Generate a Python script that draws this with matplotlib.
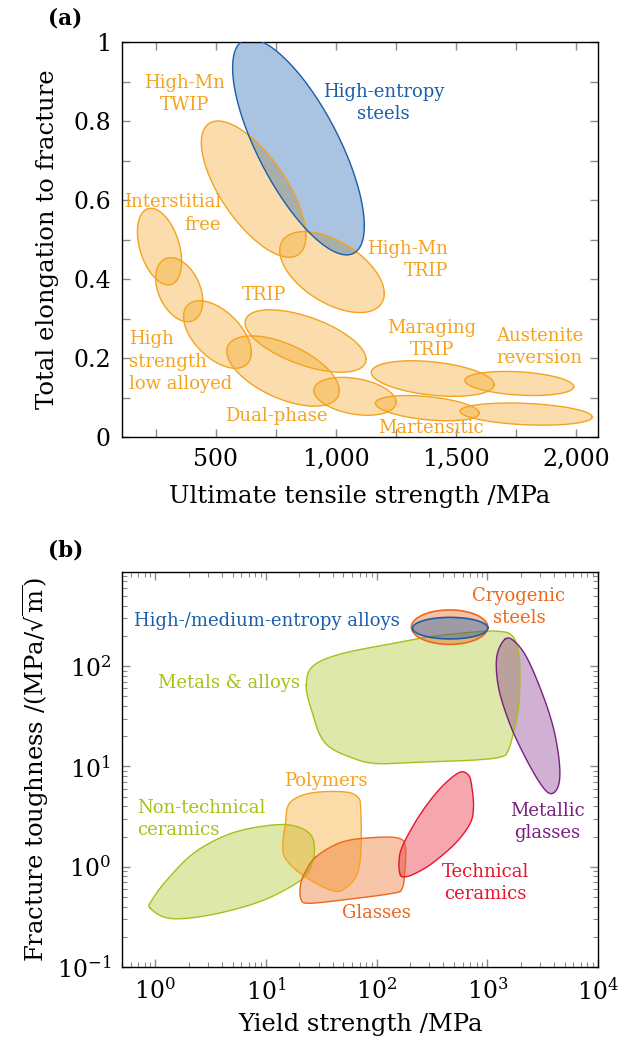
import numpy as np
import matplotlib
matplotlib.use("Agg")
import matplotlib.pyplot as plt
from matplotlib.ticker import FixedLocator, FuncFormatter, LogLocator, NullFormatter

plt.rcParams['font.family'] = ['DejaVu Serif']
plt.rcParams['mathtext.fontset'] = 'dejavuserif'

# ---------------- Panel (a) data: steel families (UTS / MPa, elongation) ----------------
steel_names = ["HEA", "TWIP", "HMnTRIP", "IF", "IF-HSLA", "HSLA", "TRIP", "DP",
               "DP-M", "MarTRIP", "AusRev", "Mart1", "Mart2"]
uts_lo = [570, 440, 766, 174, 250, 366, 622, 546, 908, 1147, 1536, 1164, 1516]
uts_hi = [1118, 875, 1201, 358, 446, 648, 1125, 1014, 1250, 1658, 1989, 1596, 2066]
elong_lo = [0.461, 0.455, 0.315, 0.385, 0.292, 0.174, 0.164, 0.078, 0.055, 0.103, 0.105, 0.041, 0.030]
elong_hi = [1.008, 0.800, 0.520, 0.579, 0.454, 0.345, 0.322, 0.256, 0.151, 0.193, 0.166, 0.105, 0.086]
coupling_deg = [137, 133, 122, 113, 111, 122, 126, 124, 108, 110, 105, 113, 105]

labels_a = ["High-Mn\nTWIP", "High-entropy\nsteels", "Interstitial\nfree", "High-Mn\nTRIP",
            "TRIP", "High\nstrength\nlow alloyed", "Maraging\nTRIP", "Austenite\nreversion",
            "Dual-phase", "Martensitic"]
labels_a_x = [370, 1198, 521, 1467, 700, 141, 1399, 1846, 750, 1397]
labels_a_y = [0.868, 0.846, 0.566, 0.449, 0.360, 0.191, 0.248, 0.227, 0.052, 0.023]
labels_a_ha = ["center", "center", "right", "right", "center", "left", "center", "center", "center", "center"]

# ---------------- Panel (b) data: Ashby map (yield strength / MPa, K_IC / MPa sqrt(m)) ----------------
metals_ys = [23.1, 24.7, 32.5, 56.5, 138, 296, 776, 1259, 1656, 1901, 1972, 1901, 1718, 1549,
             1346, 776, 276, 98.2, 56.5, 37.3, 30.3, 26.4, 23.8]
metals_k = [64.7, 91.2, 115, 139, 168, 196, 220, 223, 204, 145, 78.3, 36.4, 21.3, 14.6,
            12.5, 11.6, 11.1, 10.7, 12.5, 15.7, 21.3, 33.7, 49.4]

metglass_ys = [1445, 1216, 1259, 1549, 2037, 2877, 3664, 4355, 4508, 4064, 3304, 2339, 1778]
metglass_k = [186, 124, 62.2, 29.0, 14.6, 7.29, 5.38, 6.27, 9.91, 21.3, 45.8, 115, 175]

ntceram_ys = [0.902, 1.36, 3.12, 8.77, 18.7, 24.7, 27.4, 24.7, 16.3, 8.77, 4.41, 2.21, 1.27, 0.933]
ntceram_k = [0.385, 0.305, 0.330, 0.448, 0.682, 0.927, 1.47, 2.15, 2.61, 2.51, 2.07, 1.36, 0.736, 0.466]

polymer_ys = [15.0, 16.3, 24.7, 49.2, 67.1, 71.9, 71.9, 64.9, 49.2, 40.0, 28.4, 18.7, 14.7, 14.2]
polymer_k = [2.71, 4.29, 5.40, 5.60, 4.99, 3.67, 1.36, 0.794, 0.586, 0.577, 0.682, 0.927, 1.26, 1.71]

glass_ys = [28.4, 49.2, 98.2, 159, 182, 180, 170, 138, 49.2, 24.7, 20.8, 20.4, 22.3]
glass_k = [1.26, 1.77, 1.96, 1.92, 1.58, 0.927, 0.608, 0.542, 0.466, 0.432, 0.466, 0.632, 0.859]

techceram_ys = [164, 159, 170, 240, 364, 550, 676, 724, 750, 700, 514, 317, 224, 182]
techceram_k = [0.826, 1.08, 1.58, 3.16, 5.82, 8.65, 8.20, 6.28, 3.96, 2.71, 1.71, 1.08, 0.859, 0.794]

cryo_ys_range = [206, 1009]
cryo_k_range = [165, 364]
hea_ys_range = [211, 1009]
hea_k_range = [187, 307]

labels_b = ["High-/medium-entropy alloys", "Cryogenic\nsteels", "Metals & alloys", "Polymers",
            "Non-technical\nceramics", "Glasses", "Technical\nceramics", "Metallic\nglasses"]
labels_b_x = [10.2, 1933, 20.3, 34.4, 0.68, 99, 968, 3500]
labels_b_y = [282, 387, 67.5, 7.21, 2.97, 0.342, 0.692, 2.81]
labels_b_ha = ["center", "center", "right", "center", "left", "center", "center", "center"]

# ---------------- styles ----------------
ORANGE = "#F5A31E"
BLUE = "#1A5EAB"
GREEN = "#A3C21A"
POLY = "#F5A31E"
GLASS = "#EC681C"
RED = "#E6162F"
PURPLE = "#7B1E82"
TICKC = '#8a8a8a'
ANN_FS = 13
TICK_FS = 17
LAB_FS = 17.5
LSP = 1.3


def ellipse_pts(x0, x1, y0, y1, delta_deg, n=300):
    t = np.linspace(0, 2 * np.pi, n)
    cx, A = (x0 + x1) / 2, (x1 - x0) / 2
    cy, B = (y0 + y1) / 2, (y1 - y0) / 2
    d = np.deg2rad(delta_deg)
    return cx + A * np.cos(t), cy + B * np.cos(t - d)


def smooth_closed(px, py, n=24):
    P = np.column_stack([px, py])
    N = len(P)
    out = []
    t = np.linspace(0, 1, n, endpoint=False)[:, None]
    for i in range(N):
        p0, p1, p2, p3 = P[i - 1], P[i], P[(i + 1) % N], P[(i + 2) % N]
        out.append(0.5 * ((2 * p1) + (-p0 + p2) * t + (2 * p0 - 5 * p1 + 4 * p2 - p3) * t ** 2
                          + (-p0 + 3 * p1 - 3 * p2 + p3) * t ** 3))
    out = np.vstack(out + [out[0][:1]])
    return out[:, 0], out[:, 1]


def log_blob(ax, xs, ys, color, alpha):
    lx, ly = smooth_closed(np.log10(xs), np.log10(ys))
    ax.fill(10 ** lx, 10 ** ly, facecolor=color, alpha=alpha, edgecolor='none', zorder=2)
    ax.plot(10 ** lx, 10 ** ly, color=color, lw=1.0, zorder=3)


def log_ellipse(ax, xr, yr, color, alpha, lw=1.2):
    lx, ly = ellipse_pts(np.log10(xr[0]), np.log10(xr[1]), np.log10(yr[0]), np.log10(yr[1]), 90)
    ax.fill(10 ** lx, 10 ** ly, facecolor=color, alpha=alpha, edgecolor='none', zorder=4)
    ax.plot(10 ** lx, 10 ** ly, color=color, lw=lw, zorder=5)


fig = plt.figure(figsize=(6.19, 10.48), dpi=100)
ax1 = fig.add_axes([122 / 619, 1 - 437 / 1048, 476 / 619, 395 / 1048])
ax2 = fig.add_axes([122 / 619, 1 - 967 / 1048, 476 / 619, 395 / 1048])

# ---- panel (a) ----
order = list(range(1, len(steel_names))) + [0]
for i in order:
    col = BLUE if i == 0 else ORANGE
    alpha = 0.37 if i == 0 else 0.36
    x, y = ellipse_pts(uts_lo[i], uts_hi[i], elong_lo[i], elong_hi[i], coupling_deg[i])
    ax1.fill(x, y, facecolor=col, alpha=alpha, edgecolor='none', zorder=2)
    ax1.plot(x, y, color=col, lw=1.0, zorder=3)

for txt, x, y, ha in zip(labels_a, labels_a_x, labels_a_y, labels_a_ha):
    col = BLUE if "entropy" in txt else ORANGE
    ax1.text(x, y, txt, ha=ha, va='center', color=col, fontsize=ANN_FS, linespacing=LSP,
             multialignment=ha, zorder=6)

ax1.set_xlim(110, 2090)
ax1.set_ylim(0, 1)
ax1.xaxis.set_major_locator(FixedLocator([500, 1000, 1500, 2000]))
ax1.xaxis.set_minor_locator(FixedLocator([250, 750, 1250, 1750]))
ax1.xaxis.set_major_formatter(FuncFormatter(lambda v, p: f"{int(v):,}"))
ax1.yaxis.set_major_locator(FixedLocator([0, 0.2, 0.4, 0.6, 0.8, 1.0]))
ax1.yaxis.set_minor_locator(FixedLocator([0.1, 0.3, 0.5, 0.7, 0.9]))
ax1.yaxis.set_major_formatter(FuncFormatter(lambda v, p: "0" if v == 0 else ("1" if abs(v - 1) < 1e-9 else f"{v:.1f}")))
for which in ("major", "minor"):
    ax1.tick_params(axis='both', which=which, direction='in', top=True, right=True,
                    length=6, width=1, color=TICKC, labelsize=TICK_FS, pad=8)
ax1.set_xlabel("Ultimate tensile strength /MPa", fontsize=LAB_FS, labelpad=10)
ax1.set_ylabel("Total elongation to fracture", fontsize=LAB_FS, labelpad=10)

# ---- panel (b) ----
ax2.set_xscale('log')
ax2.set_yscale('log')
log_blob(ax2, metals_ys, metals_k, GREEN, 0.37)
log_blob(ax2, metglass_ys, metglass_k, PURPLE, 0.35)
log_blob(ax2, ntceram_ys, ntceram_k, GREEN, 0.37)
log_blob(ax2, polymer_ys, polymer_k, POLY, 0.38)
log_blob(ax2, glass_ys, glass_k, GLASS, 0.38)
log_blob(ax2, techceram_ys, techceram_k, RED, 0.38)
log_ellipse(ax2, cryo_ys_range, cryo_k_range, GLASS, 0.4)
log_ellipse(ax2, hea_ys_range, hea_k_range, BLUE, 0.4)

label_cols = [BLUE, GLASS, GREEN, POLY, GREEN, GLASS, RED, PURPLE]
for txt, x, y, ha, c in zip(labels_b, labels_b_x, labels_b_y, labels_b_ha, label_cols):
    ax2.text(x, y, txt, ha=ha, va='center', color=c, fontsize=ANN_FS, linespacing=LSP,
             multialignment=ha, zorder=6)

ax2.set_xlim(0.5, 1e4)
ax2.set_ylim(0.1, 870)
ax2.xaxis.set_major_locator(LogLocator(base=10, numticks=10))
ax2.yaxis.set_major_locator(LogLocator(base=10, numticks=10))
ax2.xaxis.set_minor_locator(LogLocator(base=10, subs=np.arange(2, 10), numticks=20))
ax2.yaxis.set_minor_locator(LogLocator(base=10, subs=np.arange(2, 10), numticks=20))
ax2.xaxis.set_minor_formatter(NullFormatter())
ax2.yaxis.set_minor_formatter(NullFormatter())
ax2.tick_params(axis='both', which='major', direction='in', top=True, right=True,
                length=6, width=1, color=TICKC, labelsize=TICK_FS, pad=8)
ax2.tick_params(axis='both', which='minor', direction='in', top=True, right=True,
                length=3.5, width=0.8, color=TICKC)
ax2.set_xlabel("Yield strength /MPa", fontsize=LAB_FS, labelpad=6)
ax2.set_ylabel(r"Fracture toughness /(MPa/$\sqrt{\mathrm{m}}$)", fontsize=LAB_FS, labelpad=4)

for ax in (ax1, ax2):
    for s in ax.spines.values():
        s.set_linewidth(1.0)

fig.text(48 / 619, 1 - 18 / 1048, "(a)", fontsize=15.5, fontweight='bold', va='center', ha='left')
fig.text(48 / 619, 1 - 550 / 1048, "(b)", fontsize=15.5, fontweight='bold', va='center', ha='left')

fig.savefig("out.png", dpi=100)
